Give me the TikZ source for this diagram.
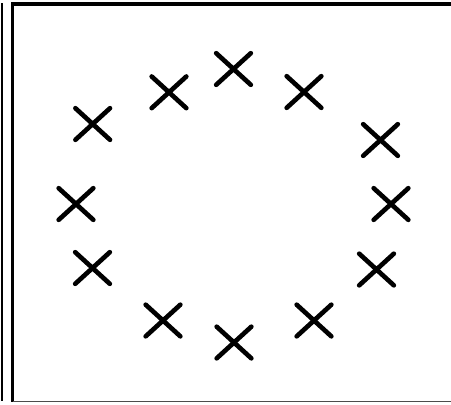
\documentclass[tikz,border=0pt]{standalone}
\usetikzlibrary{shapes.misc}
\begin{document}
\begin{tikzpicture}[x=0.025cm,y=-0.025cm]
    \tikzset{
        cross/.style={draw, cross out, line width=3.3pt, line cap=round,
            minimum width=30*0.025cm, minimum height=27*0.025cm, inner sep=0pt},
        frame/.style={line width=2.2pt}
    }
    \useasboundingbox (0,0) rectangle (451,404);

    % edge of the neighbouring panel
    \draw[line width=1.8pt] (2,3) -- (2,401);

    % panel frame
    \draw[frame] (451,4) -- (12.5,4) -- (12.5,401.5);
    \draw[line width=1pt, black!70] (12.5,401.5) -- (451,401.5);

    % the crosses, clockwise from the top
    \foreach \n/\x/\y in {%
        1/233.5/69, 2/304/92, 3/380.5/140, 4/391/204, 5/376.5/269.5, 6/314/320.5,%
        7/234/342.5, 8/163/320.5, 9/92.5/268, 10/76/204, 11/92.7/124, 12/169/92.3%
    }{
    \node[cross] (m\n) at (\x,\y) {};
    }
\end{tikzpicture}
\end{document}
